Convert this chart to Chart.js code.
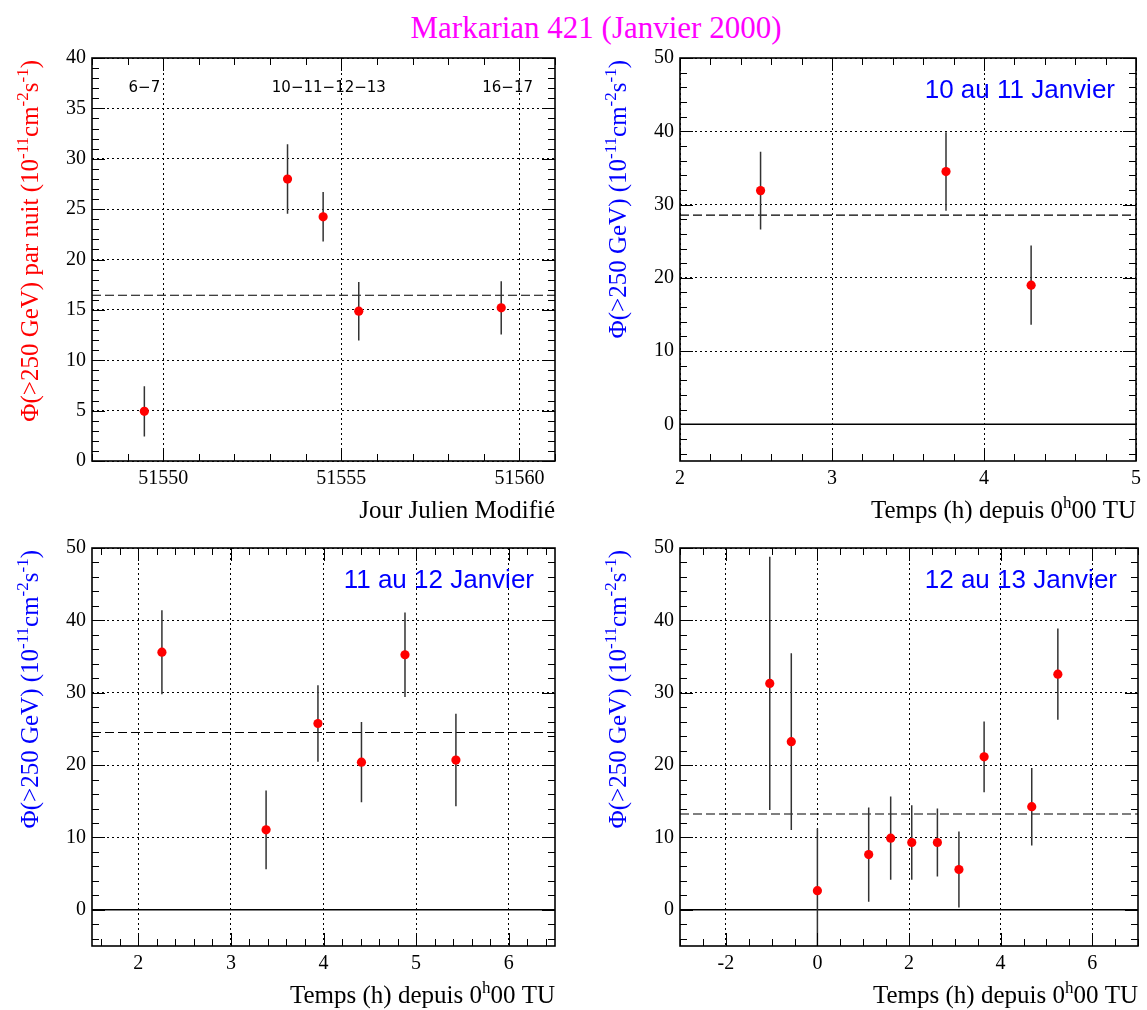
<!DOCTYPE html>
<html>
<head>
<meta charset="utf-8">
<script src="https://cdn.jsdelivr.net/npm/chart.js@4.4.1/dist/chart.umd.min.js"></script>
<style>
  body { margin: 0; background: #fff; width: 1147px; height: 1010px; position: relative; overflow: hidden; }
  canvas { position: absolute; }
  #title { position: absolute; left: 0; width: 1192px; top: 12px; line-height: 32px; text-align: center;
           font-family: "Liberation Serif", serif; font-size: 31px; color: #ff00ff; }
</style>
</head>
<body>
<div id="title">Markarian 421 (Janvier 2000)</div>
<canvas id="nights" width="570" height="490" style="left:0;top:40px"></canvas>
<canvas id="jan10" width="577" height="490" style="left:570px;top:40px"></canvas>
<canvas id="jan11" width="570" height="480" style="left:0;top:530px"></canvas>
<canvas id="jan12" width="577" height="480" style="left:570px;top:530px"></canvas>
<script>
// flux per night (MJD)
const nightMJD = [51549.47, 51553.49, 51554.49, 51555.49, 51559.49];
const nightFlux = [4.93, 27.98, 24.24, 14.87, 15.2];
const nightErr = [2.5, 3.45, 2.45, 2.9, 2.65];
const nightMean = 16.45;
const nightLabels = ["6\u22127", "10\u221211\u221212\u221213", "16\u221217"];
const nightLabelX = [51549.47, 51554.65, 51559.67];
const nightLabelY = 37;

// 10-11 January, hours since 0h00 UT
const jan10Time = [2.53, 3.75, 4.31];
const jan10Flux = [31.9, 34.5, 19.0];
const jan10Err = [5.3, 5.35, 5.4];
const jan10Mean = 28.55;

// 11-12 January
const jan11Time = [2.255, 3.38, 3.94, 4.41, 4.88, 5.43];
const jan11Flux = [35.6, 11.05, 25.75, 20.4, 35.25, 20.7];
const jan11Err = [5.8, 5.45, 5.3, 5.55, 5.85, 6.4];
const jan11Mean = 24.5;

// 12-13 January
const jan12Time = [-1.04, -0.57, 0.0, 1.12, 1.6, 2.06, 2.62, 3.09, 3.64, 4.68, 5.25];
const jan12Flux = [31.28, 23.24, 2.65, 7.63, 9.9, 9.3, 9.3, 5.57, 21.14, 14.25, 32.56];
const jan12Err = [17.5, 12.2, 8.6, 6.5, 5.75, 5.15, 4.7, 5.25, 4.9, 5.35, 6.3];
const jan12Mean = 13.24;

const SERIF = '"Liberation Serif", "Times New Roman", serif';
const fluxTitle = [["\u03a6(>250 GeV) (10"], ["-11", 1], ["cm"], ["-2", 1], ["s"], ["-1", 1], [")"]];
const fluxNightTitle = [["\u03a6(>250 GeV) par nuit (10"], ["-11", 1], ["cm"], ["-2", 1], ["s"], ["-1", 1], [")"]];
const timeTitle = [["Temps (h) depuis 0"], ["h", 1], ["00 TU"]];

// draw text with superscripts, right aligned at x=0
function drawRich(ctx, parts, size) {
  const sub = Math.round(size * 0.68);
  let w = 0;
  parts.forEach(([t, sup]) => { ctx.font = (sup ? sub : size) + "px " + SERIF; w += ctx.measureText(t).width; });
  let x = -w;
  parts.forEach(([t, sup]) => {
    ctx.font = (sup ? sub : size) + "px " + SERIF;
    ctx.fillText(t, x, sup ? -size * 0.42 : 0);
    x += ctx.measureText(t).width;
  });
}

const errorBars = {
  id: "errorBars",
  beforeDatasetDraw(chart, args) {
    const ds = chart.data.datasets[args.index];
    if (!ds.errors) return;
    const { ctx, chartArea: a, scales: { x, y } } = chart;
    ctx.save();
    ctx.beginPath();
    ctx.rect(a.left, a.top, a.right - a.left, a.bottom - a.top);
    ctx.clip();
    ctx.strokeStyle = "#333";
    ctx.lineWidth = 1.5;
    ctx.beginPath();
    ds.data.forEach((p, i) => {
      const px = x.getPixelForValue(p.x);
      ctx.moveTo(px, y.getPixelForValue(p.y - ds.errors[i]));
      ctx.lineTo(px, y.getPixelForValue(p.y + ds.errors[i]));
    });
    ctx.stroke();
    ctx.restore();
  }
};

// ROOT-like frame: box, inward ticks on all sides, titles
const frame = {
  id: "frame",
  afterDraw(chart, args, o) {
    const { ctx, chartArea: a, scales: { x, y } } = chart;
    ctx.save();
    ctx.strokeStyle = "#000";
    ctx.lineWidth = 1;
    ctx.beginPath();
    const each = (sc, step, fn) => {
      for (let i = Math.ceil(sc.min / step - 1e-9); i * step <= sc.max + 1e-9; i++) fn(i * step);
    };
    [[o.xMinor, 7], [o.xMajor, 13]].forEach(([step, len]) => each(x, step, v => {
      const px = Math.round(x.getPixelForValue(v)) + 0.5;
      ctx.moveTo(px, a.bottom); ctx.lineTo(px, a.bottom - len);
      ctx.moveTo(px, a.top); ctx.lineTo(px, a.top + len);
    }));
    [[o.yMinor, 7], [o.yMajor, 13]].forEach(([step, len]) => each(y, step, v => {
      const py = Math.round(y.getPixelForValue(v)) + 0.5;
      ctx.moveTo(a.left, py); ctx.lineTo(a.left + len, py);
      ctx.moveTo(a.right, py); ctx.lineTo(a.right - len, py);
    }));
    ctx.stroke();
    ctx.lineWidth = 1.6;
    ctx.strokeRect(a.left, a.top, a.right - a.left, a.bottom - a.top);

    // axis titles
    ctx.textBaseline = "alphabetic";
    ctx.textAlign = "left";
    ctx.fillStyle = "#000";
    ctx.save();
    ctx.translate(a.right, a.bottom + 57);
    drawRich(ctx, o.xTitle, 25);
    ctx.restore();
    ctx.save();
    ctx.fillStyle = o.yColor;
    ctx.translate(a.left - 54, a.top + 2);
    ctx.rotate(-Math.PI / 2);
    drawRich(ctx, o.yTitle, 25);
    ctx.restore();

    if (o.label) {
      ctx.fillStyle = "#0000ff";
      ctx.font = '26px "Liberation Sans", sans-serif';
      ctx.textAlign = "right";
      ctx.textBaseline = "middle";
      ctx.fillText(o.label, a.right - 21, a.top + 33);
    }
    if (o.marks) {
      ctx.fillStyle = "#000";
      ctx.font = '15px "DejaVu Sans", sans-serif';
      ctx.textAlign = "center";
      ctx.textBaseline = "middle";
      o.marks.text.forEach((t, i) => {
        ctx.fillText(t, x.getPixelForValue(o.marks.x[i]), y.getPixelForValue(o.marks.y));
      });
    }
    ctx.restore();
  }
};

function axis(min, max, step, fit) {
  return {
    type: "linear",
    min: min,
    max: max,
    afterFit: fit,
    // labels only on multiples of the step, never on the bounds
    afterBuildTicks: s => {
      const t = [];
      for (let i = Math.ceil(min / step - 1e-9); i * step <= max + 1e-9; i++) t.push({ value: +(i * step).toFixed(6) });
      s.ticks = t;
    },
    grid: { color: "#000", lineWidth: 1, drawTicks: false, borderDash: [2, 3] },
    border: { display: false, dash: [2, 3] },
    ticks: {
      stepSize: step,
      autoSkip: false,
      maxRotation: 0,
      padding: 6,
      color: "#000",
      font: { family: SERIF, size: 20 },
      callback: v => String(v)
    }
  };
}

function makePanel(id, p) {
  const el = document.getElementById(id);
  const W = el.width, H = el.height;
  const [L, T, R, B] = p.area;
  const datasets = [
    {
      data: p.xs.map((v, i) => ({ x: v, y: p.ys[i] })),
      errors: p.errs,
      backgroundColor: "#ff0000",
      borderWidth: 0,
      pointRadius: 4.6,
      pointHoverRadius: 4.6
    },
    {
      type: "line",
      data: [{ x: p.xMin, y: p.mean }, { x: p.xMax, y: p.mean }],
      borderColor: "#000",
      borderWidth: 1.1,
      borderDash: [9, 4],
      pointRadius: 0
    }
  ];
  if (p.yMin < 0) {
    datasets.push({
      type: "line",
      data: [{ x: p.xMin, y: 0 }, { x: p.xMax, y: 0 }],
      borderColor: "#000",
      borderWidth: 1.5,
      pointRadius: 0
    });
  }
  new Chart(el, {
    type: "scatter",
    data: { datasets },
    options: {
      responsive: false,
      animation: false,
      events: [],
      layout: { padding: { left: 0, top: T, right: W - R, bottom: 0 } },
      plugins: {
        legend: { display: false },
        tooltip: { enabled: false },
        frame: {
          xMajor: p.xMajor, xMinor: p.xMinor, yMajor: p.yMajor, yMinor: p.yMinor,
          xTitle: p.xTitle, yTitle: p.yTitle, yColor: p.yColor,
          label: p.label, marks: p.marks
        }
      },
      scales: {
        x: axis(p.xMin, p.xMax, p.xMajor, s => { s.height = H - B; }),
        y: axis(p.yMin, p.yMax, p.yMajor, s => { s.width = L; })
      }
    },
    plugins: [errorBars, frame]
  });
}

makePanel("nights", {
  area: [92, 18, 555, 421],
  xs: nightMJD, ys: nightFlux, errs: nightErr, mean: nightMean,
  xMin: 51548, xMax: 51561, xMajor: 5, xMinor: 1,
  yMin: 0, yMax: 40, yMajor: 5, yMinor: 1,
  xTitle: [["Jour Julien Modifi\u00e9"]], yTitle: fluxNightTitle, yColor: "#ff0000",
  marks: { text: nightLabels, x: nightLabelX, y: nightLabelY }
});

makePanel("jan10", {
  area: [110, 18, 568, 421],
  xs: jan10Time, ys: jan10Flux, errs: jan10Err, mean: jan10Mean,
  xMin: 2, xMax: 5, xMajor: 1, xMinor: 0.2,
  yMin: -5, yMax: 50, yMajor: 10, yMinor: 2,
  xTitle: timeTitle, yTitle: fluxTitle, yColor: "#0000ff",
  label: "10 au 11 Janvier"
});

makePanel("jan11", {
  area: [92, 15, 555, 416],
  xs: jan11Time, ys: jan11Flux, errs: jan11Err, mean: jan11Mean,
  xMin: 1.5, xMax: 6.5, xMajor: 1, xMinor: 0.2,
  yMin: -5, yMax: 50, yMajor: 10, yMinor: 2,
  xTitle: timeTitle, yTitle: fluxTitle, yColor: "#0000ff",
  label: "11 au 12 Janvier"
});

makePanel("jan12", {
  area: [110, 15, 568, 416],
  xs: jan12Time, ys: jan12Flux, errs: jan12Err, mean: jan12Mean,
  xMin: -3, xMax: 7, xMajor: 2, xMinor: 0.5,
  yMin: -5, yMax: 50, yMajor: 10, yMinor: 2,
  xTitle: timeTitle, yTitle: fluxTitle, yColor: "#0000ff",
  label: "12 au 13 Janvier"
});
</script>
</body>
</html>
